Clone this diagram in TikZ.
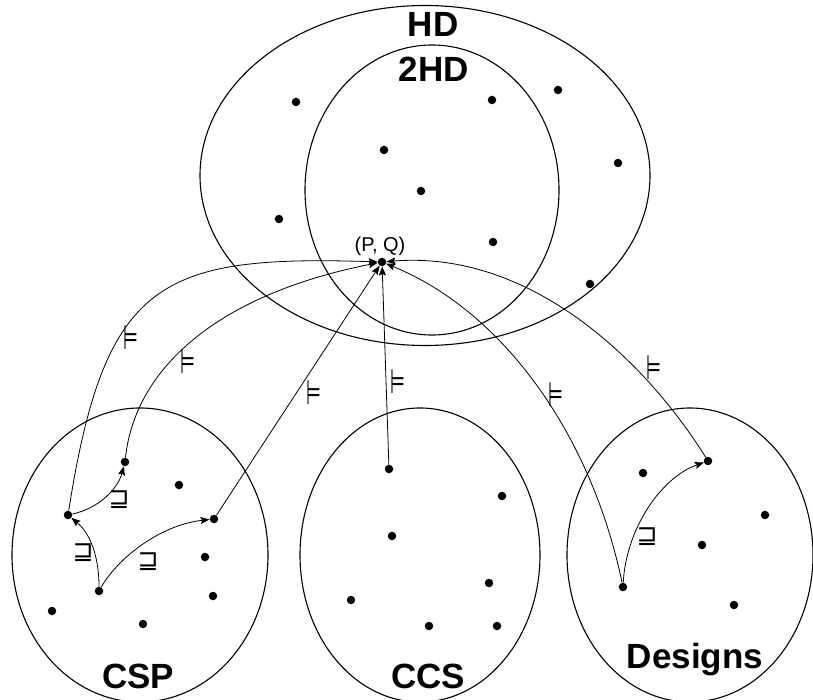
\documentclass[tikz,border=0pt]{standalone}
\usepackage{fontspec}
\setmainfont{Liberation Sans}
\newfontfamily\symfont{DejaVu Sans}
\usetikzlibrary{arrows.meta}
\begin{document}
\begin{tikzpicture}[x=1pt,y=-1pt,
  region/.style={draw, line width=1.1pt},
  dot/.style={circle, fill, inner sep=0pt, minimum size=8.5pt},
  conn/.style={draw, line width=0.8pt, -{Stealth[length=9pt,width=7pt,inset=1.5pt]}},
  title/.style={font=\bfseries\fontsize{35}{40}\selectfont, anchor=base, inner sep=0pt},
  ent/.style={font=\symfont\fontsize{34}{36}\selectfont, inner sep=0pt, xscale=0.5},
  ref/.style={font=\symfont\fontsize{25}{27}\selectfont, inner sep=0pt}]
\useasboundingbox (0,0) rectangle (813,700);
% regions
\draw[region] (425,175.5) ellipse [x radius=225, y radius=170];
\draw[region] (432,190) ellipse [x radius=127, y radius=145];
\draw[region] (140,555) ellipse [x radius=128, y radius=147];
\draw[region] (420,555) ellipse [x radius=120, y radius=147];
\draw[region] (690,555) ellipse [x radius=123, y radius=147];
% titles
\node[title] (thd) at (433,37) {HD};
\node[title] (t2hd) at (434,82) {2HD};
\node[title] (tcsp) at (138,688) {CSP};
\node[title] (tccs) at (428,688) {CCS};
\node[title] (tdes) at (695,668) {Designs};
% dots
\foreach \n/\x/\y in {h1/296/102, h2/492/100, h3/558/90, h4/384/150, h5/618/163, h6/421/191, h7/279/219, h8/493/242, h9/590/284, pq/382/262,
  s1/125/462, s2/179/485, s3/68/515, s4/214/519, s5/205/557, s6/99/591, s7/213/596, s8/52/611, s9/143/624,
  c1/389/469, c2/502/496, c3/392/536, c4/489/583, c5/351/600, c6/429/626, c7/497/626,
  d1/708/461, d2/643/473, d3/765/515, d4/702/545, d5/623/587, d6/734/605}
  \node[dot] (\n) at (\x,\y) {};
\node[font=\fontsize{20}{22}\selectfont, anchor=base, inner sep=0pt] (pqlabel) at (380,252) {(P, Q)};
% satisfaction arrows
\draw[conn] (s3) .. controls (105,280) and (160,255) .. (pq);
\draw[conn] (s1) .. controls (135,370) and (215,295) .. (pq);
\draw[conn] (s4) -- (pq);
\draw[conn] (c1) -- (pq);
\draw[conn] (d5) .. controls (590,430) and (500,310) .. (pq);
\draw[conn] (d1) .. controls (645,360) and (530,250) .. (pq);
% refinement arrows
\draw[conn] (s6) .. controls (99,560) and (92,535) .. (s3);
\draw[conn] (s6) .. controls (118,558) and (160,525) .. (s4);
\draw[conn] (s3) .. controls (100,508) and (118,488) .. (s1);
\draw[conn] (d5) .. controls (626,530) and (660,478) .. (d1);
% labels
\node[ent] (e1) at (131,338) {⊨};
\node[ent] (e2) at (188,362) {⊨};
\node[ent] (e3) at (314,393) {⊨};
\node[ent] (e4) at (398,382) {⊨};
\node[ent] (e5) at (556,395) {⊨};
\node[ent] (e6) at (654,368) {⊨};
\node[ref] (r1) at (119,500) {⊒};
\node[ref] (r2) at (83,553) {⊒};
\node[ref] (r3) at (148,562) {⊒};
\node[ref] (r4) at (647,537) {⊒};
\end{tikzpicture}
\end{document}
